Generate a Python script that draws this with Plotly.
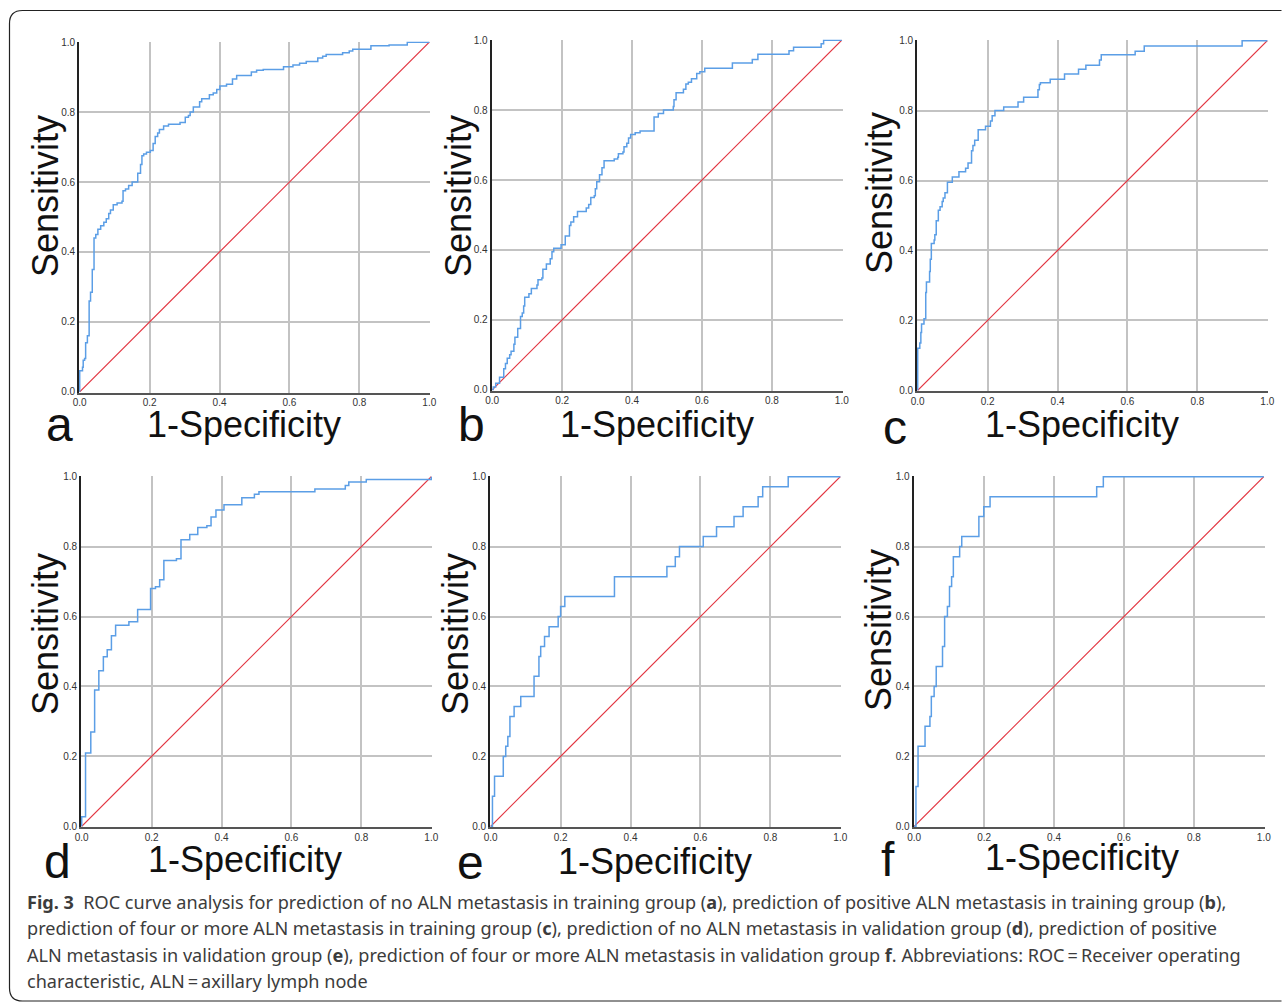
import plotly.graph_objects as go

W, H = 1282, 1002

# ---------------- data ----------------
panel_letters = ["a", "b", "c", "d", "e", "f"]
tick_vals = [0.0, 0.2, 0.4, 0.6, 0.8, 1.0]
tick_text = ["0.0", "0.2", "0.4", "0.6", "0.8", "1.0"]
x_title = "1-Specificity"
y_title = "Sensitivity"

fpr_a = [0, 0, 0.008, 0.010, 0.014, 0.017, 0.022, 0.027, 0.031, 0.036, 0.041, 0.046, 0.052,
         0.060, 0.069, 0.076, 0.083, 0.088, 0.096, 0.107, 0.121, 0.124, 0.131, 0.140, 0.150,
         0.166, 0.174, 0.178, 0.183, 0.191, 0.202, 0.210, 0.216, 0.223, 0.228, 0.240, 0.254,
         0.287, 0.302, 0.311, 0.316, 0.325, 0.343, 0.349, 0.371, 0.382, 0.392, 0.401, 0.420,
         0.437, 0.449, 0.491, 0.506, 0.525, 0.583, 0.610, 0.629, 0.648, 0.681, 0.695, 0.705,
         0.752, 0.771, 0.781, 0.833, 0.885, 0.937, 1.0]
tpr_a = [0, 0.06, 0.07, 0.09, 0.095, 0.14, 0.16, 0.26, 0.285, 0.35, 0.44, 0.45, 0.465,
         0.475, 0.485, 0.495, 0.51, 0.52, 0.535, 0.54, 0.545, 0.575, 0.58, 0.59, 0.60,
         0.625, 0.65, 0.675, 0.68, 0.685, 0.69, 0.71, 0.73, 0.74, 0.75, 0.76, 0.765,
         0.77, 0.785, 0.79, 0.80, 0.815, 0.83, 0.838, 0.85, 0.855, 0.865, 0.875, 0.88,
         0.895, 0.905, 0.915, 0.92, 0.922, 0.93, 0.935, 0.94, 0.945, 0.955, 0.96, 0.965,
         0.97, 0.975, 0.98, 0.99, 0.992, 1.0, 1.0]

fpr_b = [0, 0.003, 0.010, 0.021, 0.033, 0.038, 0.043, 0.050, 0.054, 0.062, 0.065, 0.073,
         0.081, 0.086, 0.090, 0.093, 0.105, 0.112, 0.128, 0.131, 0.142, 0.145, 0.155, 0.166,
         0.171, 0.176, 0.197, 0.209, 0.221, 0.225, 0.233, 0.244, 0.269, 0.276, 0.282, 0.292,
         0.295, 0.299, 0.307, 0.314, 0.320, 0.349, 0.359, 0.361, 0.374, 0.377, 0.385, 0.390,
         0.396, 0.409, 0.423, 0.463, 0.475, 0.490, 0.518, 0.520, 0.526, 0.547, 0.554, 0.561,
         0.570, 0.585, 0.594, 0.608, 0.687, 0.744, 0.760, 0.849, 0.862, 0.941, 0.948, 1.0]
tpr_b = [0, 0.008, 0.019, 0.036, 0.06, 0.075, 0.09, 0.10, 0.11, 0.13, 0.15, 0.175,
         0.21, 0.22, 0.24, 0.265, 0.275, 0.29, 0.30, 0.315, 0.32, 0.345, 0.36, 0.375,
         0.395, 0.405, 0.415, 0.44, 0.47, 0.48, 0.495, 0.51, 0.52, 0.53, 0.55, 0.555,
         0.575, 0.595, 0.615, 0.635, 0.655, 0.66, 0.665, 0.675, 0.68, 0.695, 0.705, 0.72,
         0.73, 0.735, 0.74, 0.78, 0.79, 0.80, 0.81, 0.83, 0.85, 0.86, 0.875, 0.88,
         0.89, 0.905, 0.91, 0.92, 0.935, 0.945, 0.96, 0.97, 0.98, 0.99, 1.0, 1.0]

fpr_c = [0, 0, 0.006, 0.009, 0.011, 0.018, 0.023, 0.025, 0.034, 0.036, 0.039, 0.047, 0.049,
         0.053, 0.059, 0.064, 0.070, 0.073, 0.078, 0.085, 0.099, 0.118, 0.137, 0.144, 0.154,
         0.158, 0.163, 0.173, 0.194, 0.208, 0.213, 0.221, 0.246, 0.287, 0.303, 0.344, 0.348,
         0.351, 0.379, 0.420, 0.460, 0.481, 0.520, 0.525, 0.622, 0.648, 0.928, 1.0]
tpr_c = [0, 0.12, 0.135, 0.165, 0.19, 0.205, 0.28, 0.31, 0.34, 0.375, 0.42, 0.43, 0.445,
         0.485, 0.515, 0.525, 0.54, 0.55, 0.565, 0.595, 0.61, 0.625, 0.635, 0.65, 0.685,
         0.70, 0.715, 0.745, 0.755, 0.77, 0.785, 0.80, 0.81, 0.825, 0.838, 0.86, 0.875,
         0.88, 0.89, 0.905, 0.918, 0.93, 0.945, 0.96, 0.97, 0.985, 1.0, 1.0]

fpr_d = [0, 0, 0.011, 0.026, 0.037, 0.049, 0.062, 0.073, 0.085, 0.097, 0.135, 0.160, 0.197,
         0.211, 0.223, 0.235, 0.271, 0.284, 0.309, 0.332, 0.358, 0.370, 0.384, 0.407, 0.458,
         0.494, 0.507, 0.667, 0.754, 0.764, 0.814, 1.0]
tpr_d = [0, 0.027, 0.21, 0.27, 0.39, 0.445, 0.485, 0.505, 0.545, 0.575, 0.585, 0.62, 0.68,
         0.685, 0.705, 0.76, 0.765, 0.82, 0.835, 0.855, 0.86, 0.885, 0.905, 0.92, 0.94,
         0.95, 0.957, 0.965, 0.975, 0.985, 0.992, 1.0]

fpr_e = [0, 0.005, 0.011, 0.036, 0.043, 0.049, 0.055, 0.067, 0.086, 0.124, 0.138, 0.143,
         0.154, 0.167, 0.193, 0.200, 0.212, 0.354, 0.504, 0.528, 0.540, 0.608, 0.646, 0.696,
         0.722, 0.765, 0.778, 0.851, 1.0]
tpr_e = [0, 0.086, 0.143, 0.200, 0.229, 0.257, 0.314, 0.343, 0.371, 0.429, 0.486, 0.514,
         0.543, 0.571, 0.600, 0.629, 0.657, 0.714, 0.743, 0.771, 0.800, 0.829, 0.857, 0.886,
         0.914, 0.943, 0.971, 1.0, 1.0]

fpr_f = [0, 0.005, 0.011, 0.031, 0.045, 0.049, 0.057, 0.063, 0.081, 0.087, 0.095, 0.101,
         0.107, 0.112, 0.130, 0.136, 0.185, 0.199, 0.217, 0.522, 0.541, 1.0]
tpr_f = [0, 0.114, 0.229, 0.286, 0.314, 0.371, 0.400, 0.457, 0.514, 0.600, 0.629, 0.686,
         0.714, 0.771, 0.800, 0.829, 0.886, 0.914, 0.943, 0.971, 1.0, 1.0]

ref_line = [0.0, 1.0]

caption_lines = [
    "<b>Fig. 3</b>  ROC curve analysis for prediction of no ALN metastasis in training group (<b>a</b>), prediction of positive ALN metastasis in training group (<b>b</b>),",
    "prediction of four or more ALN metastasis in training group (<b>c</b>), prediction of no ALN metastasis in validation group (<b>d</b>), prediction of positive",
    "ALN metastasis in validation group (<b>e</b>), prediction of four or more ALN metastasis in validation group <b>f</b>. Abbreviations: ROC\u2009=\u2009Receiver operating",
    "characteristic, ALN\u2009=\u2009axillary lymph node",
]

# ---------------- layout (pixel boxes) ----------------
curves = [(fpr_a, tpr_a), (fpr_b, tpr_b), (fpr_c, tpr_c),
          (fpr_d, tpr_d), (fpr_e, tpr_e), (fpr_f, tpr_f)]
boxes = [(79, 430, 41.5, 392.5), (491.5, 842.5, 39.5, 390.5), (917, 1268, 40, 391),
         (81, 432, 476, 827), (490, 841, 476, 827), (913.5, 1264.5, 476, 827)]
ytitle_pos = [(45, 196), (458, 196), (880, 193), (45, 634), (455, 634), (878, 630)]
xtitle_pos = [(244, 424), (657, 424), (1082, 424), (245, 859), (655, 861), (1082, 857)]
letter_pos = [(59, 424), (471, 424), (895, 427), (57, 861), (470, 862), (888, 859)]

BLUE = "#5b9ee6"
RED = "#e2333f"
GRID = "#c3c3c3"
AXFONT = "Arial, Liberation Sans, sans-serif"

fig = go.Figure()
layout = dict(width=W, height=H, margin=dict(l=0, r=0, t=0, b=0, pad=0, autoexpand=False),
              paper_bgcolor="white", plot_bgcolor="white", showlegend=False)
annotations = []

for i, ((fx, ty), (x0, x1, y0, y1)) in enumerate(zip(curves, boxes)):
    n = "" if i == 0 else str(i + 1)
    xa, ya = "x" + n, "y" + n
    fig.add_trace(go.Scatter(x=ref_line, y=ref_line, mode="lines", xaxis=xa, yaxis=ya,
                             line=dict(color=RED, width=1.2), hoverinfo="skip"))
    fig.add_trace(go.Scatter(x=fx, y=ty, mode="lines", xaxis=xa, yaxis=ya,
                             line=dict(color=BLUE, width=1.5, shape="hv"), hoverinfo="skip"))
    common = dict(range=[-0.002, 1.002], tickvals=tick_vals, ticktext=tick_text,
                  showgrid=True, gridcolor=GRID, gridwidth=1.6, zeroline=False,
                  showline=True, ticks="", fixedrange=True, automargin=False,
                  tickfont=dict(family=AXFONT, size=10, color="#333333"))
    layout["xaxis" + n] = dict(common, domain=[x0 / W, x1 / W], anchor=ya,
                               linecolor="#555555", linewidth=1.6)
    layout["yaxis" + n] = dict(common, domain=[1 - y1 / H, 1 - y0 / H], anchor=xa,
                               linecolor="#222222", linewidth=1.6)
    tx, ty_ = ytitle_pos[i]
    annotations.append(dict(text=y_title, x=tx / W, y=1 - ty_ / H, xref="paper", yref="paper",
                            textangle=-90, showarrow=False, xanchor="center", yanchor="middle",
                            font=dict(family=AXFONT, size=36, color="#111111")))
    tx, ty_ = xtitle_pos[i]
    annotations.append(dict(text=x_title, x=tx / W, y=1 - ty_ / H, xref="paper", yref="paper",
                            showarrow=False, xanchor="center", yanchor="middle",
                            font=dict(family=AXFONT, size=36, color="#111111")))
    tx, ty_ = letter_pos[i]
    annotations.append(dict(text=panel_letters[i], x=tx / W, y=1 - ty_ / H, xref="paper",
                            yref="paper", showarrow=False, xanchor="center", yanchor="middle",
                            font=dict(family=AXFONT, size=48, color="#111111")))

cap_y = [902, 928, 955, 981]
for line, yy in zip(caption_lines, cap_y):
    annotations.append(dict(text=line, x=25 / W, y=1 - yy / H, xref="paper", yref="paper",
                            showarrow=False, xanchor="left", yanchor="middle", align="left",
                            font=dict(family="Noto Sans, sans-serif", size=18.1, color="#3c3c3c")))

layout["annotations"] = annotations

# rounded frame
def px(x):
    return x / W
def py(y):
    return 1 - y / H
r = 13
frame = (f"M {px(W - 0.5)} {py(10.5)} L {px(9.5 + r)} {py(10.5)} "
         f"Q {px(9.5)} {py(10.5)} {px(9.5)} {py(10.5 + r)} "
         f"L {px(9.5)} {py(1001 - r)} Q {px(9.5)} {py(1001)} {px(9.5 + r)} {py(1001)} "
         f"L {px(W - 0.5)} {py(1001)}")
layout["shapes"] = [dict(type="path", path=frame, xref="paper", yref="paper",
                         line=dict(color="#222222", width=1.2), layer="above")]

fig.update_layout(**layout)
fig.write_html("out.html", config={"displayModeBar": False},
               post_script="document.body.style.margin='0';document.body.style.padding='0';"
                           "document.body.style.overflow='hidden';")
